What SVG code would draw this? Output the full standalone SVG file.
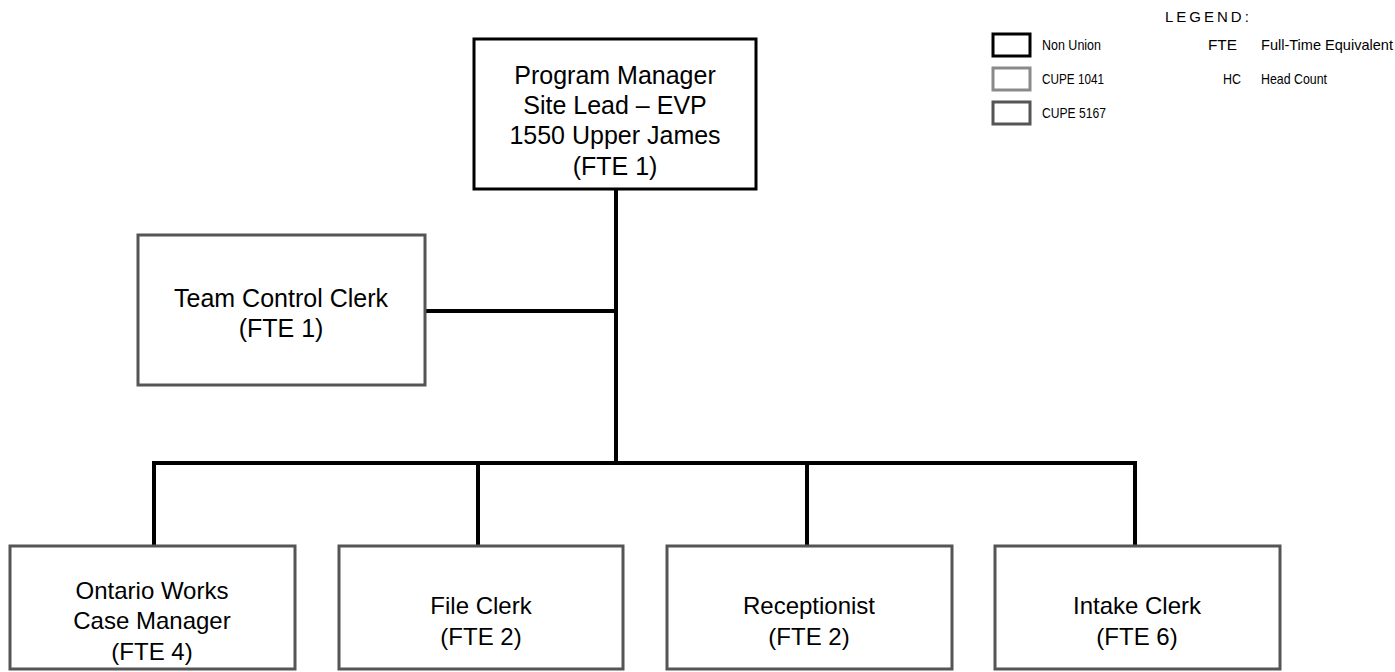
<svg xmlns="http://www.w3.org/2000/svg" width="1395" height="672" viewBox="0 0 1395 672">
<style>
  .node { fill: #fff; stroke-width: 3; }
  .nonunion { stroke: #000; }
  .c1041 { stroke: #8a8a8a; }
  .c5167 { stroke: #555; }
  .t { font-family: "Liberation Sans", Arial, sans-serif; font-size: 25px; fill: #000; text-anchor: middle; }
  .b { font-family: "Liberation Sans", Arial, sans-serif; font-size: 24px; fill: #000; text-anchor: middle; }
  .lg { font-family: "Liberation Sans", Arial, sans-serif; font-size: 15px; fill: #000; }
  .conn { stroke: #000; stroke-width: 4; fill: none; }
</style>
<rect width="1395" height="672" fill="#fff"/>
<g id="connectors">
  <line class="conn" x1="616" y1="189" x2="616" y2="465"/>
  <line class="conn" x1="425" y1="311" x2="616" y2="311"/>
  <line class="conn" x1="152" y1="463" x2="1137" y2="463"/>
  <line class="conn" x1="154" y1="461" x2="154" y2="546"/>
  <line class="conn" x1="478" y1="461" x2="478" y2="546"/>
  <line class="conn" x1="807" y1="461" x2="807" y2="546"/>
  <line class="conn" x1="1135" y1="461" x2="1135" y2="546"/>
</g>
<g id="program-manager">
  <rect class="node nonunion" x="474" y="39" width="282" height="150" stroke-width="4"/>
  <text class="t" x="615" y="84">Program Manager</text>
  <text class="t" x="615" y="114">Site Lead – EVP</text>
  <text class="t" x="615" y="144">1550 Upper James</text>
  <text class="t" x="615" y="175">(FTE 1)</text>
</g>
<g id="team-control-clerk">
  <rect class="node c5167" x="138" y="235" width="287" height="150"/>
  <text class="t" x="281" y="307">Team Control Clerk</text>
  <text class="t" x="281" y="337">(FTE 1)</text>
</g>
<g id="case-manager">
  <rect class="node c5167" x="10" y="546" width="285" height="123"/>
  <text class="b" x="152" y="599">Ontario Works</text>
  <text class="b" x="152" y="629">Case Manager</text>
  <text class="b" x="152" y="660">(FTE 4)</text>
</g>
<g id="file-clerk">
  <rect class="node c5167" x="339" y="546" width="284" height="123"/>
  <text class="b" x="481" y="614">File Clerk</text>
  <text class="b" x="481" y="645">(FTE 2)</text>
</g>
<g id="receptionist">
  <rect class="node c5167" x="667" y="546" width="285" height="123"/>
  <text class="b" x="809" y="614">Receptionist</text>
  <text class="b" x="809" y="645">(FTE 2)</text>
</g>
<g id="intake-clerk">
  <rect class="node c5167" x="995" y="546" width="285" height="123"/>
  <text class="b" x="1137" y="614">Intake Clerk</text>
  <text class="b" x="1137" y="645">(FTE 6)</text>
</g>
<g id="legend">
  <text class="lg" x="1165" y="22" letter-spacing="3" font-size="13">LEGEND:</text>
  <rect x="993" y="34" width="37" height="22" fill="#fff" stroke="#000" stroke-width="3"/>
  <rect x="993" y="68" width="37" height="22" fill="#fff" stroke="#8a8a8a" stroke-width="3"/>
  <rect x="993" y="102" width="37" height="22" fill="#fff" stroke="#555" stroke-width="3"/>
  <text class="lg" x="1042" y="50" textLength="59" lengthAdjust="spacingAndGlyphs">Non Union</text>
  <text class="lg" x="1042" y="84" textLength="62" lengthAdjust="spacingAndGlyphs">CUPE 1041</text>
  <text class="lg" x="1042" y="118" textLength="64" lengthAdjust="spacingAndGlyphs">CUPE 5167</text>
  <text class="lg" x="1208" y="50" textLength="29" lengthAdjust="spacingAndGlyphs">FTE</text>
  <text class="lg" x="1261" y="50" textLength="132" lengthAdjust="spacingAndGlyphs">Full-Time Equivalent</text>
  <text class="lg" x="1223" y="84" textLength="18" lengthAdjust="spacingAndGlyphs">HC</text>
  <text class="lg" x="1261" y="84" textLength="66" lengthAdjust="spacingAndGlyphs">Head Count</text>
</g>
</svg>
